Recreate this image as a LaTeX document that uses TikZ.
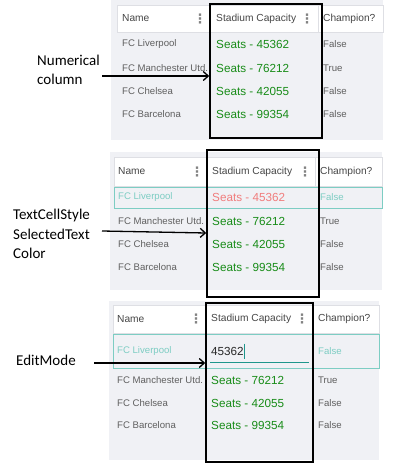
\documentclass[tikz,border=0pt]{standalone}
\usepackage{fontspec}
\setmainfont{Carlito}
\newfontfamily\tabfont{Liberation Sans}
\newfontfamily\dotfont{DejaVu Sans}
\usepackage{tikz}
\usetikzlibrary{arrows.meta}
\definecolor{gridbg}{RGB}{240,241,245}
\definecolor{gridline}{RGB}{222,223,228}
\definecolor{celltext}{RGB}{95,95,95}
\definecolor{headtext}{RGB}{70,70,70}
\definecolor{dotgrey}{RGB}{130,130,130}
\definecolor{edittext}{RGB}{40,40,40}
\definecolor{editline}{RGB}{30,150,140}
\definecolor{seatgreen}{RGB}{24,140,24}
\definecolor{seatred}{RGB}{240,125,125}
\definecolor{selteal}{RGB}{125,205,195}

\begin{document}
\begin{tikzpicture}[x=1pt,y=1pt,yscale=-1,
  cell/.style={anchor=west,inner sep=0pt,font=\tabfont\fontsize{9.6}{11}\selectfont,text=celltext},
  head/.style={cell,font=\tabfont\fontsize{10.2}{12}\selectfont,text=headtext},
  seat/.style={anchor=west,inner sep=0pt,font=\tabfont\fontsize{11.7}{13}\selectfont,text=seatgreen},
  sel/.style={cell,text=selteal},
  dots/.style={inner sep=0pt,font=\dotfont\bfseries\fontsize{13}{13}\selectfont,text=dotgrey},
  lbl/.style={anchor=west,align=left,inner sep=0pt,font=\fontsize{15}{19.5}\selectfont},
  colbox/.style={draw,line width=1.6pt,inner sep=0pt},
  pointer/.style={-{Straight Barb[length=5pt,width=9pt]},line width=1.3pt}]
\useasboundingbox (0,0) rectangle (400,463);

% first grid
\fill[gridbg] (111,0) rectangle (383,140);
\filldraw[fill=white,draw=gridline] (117,5) rectangle (383,32);
\draw[gridline,line width=1pt] (209,5) -- (209,32) (318,5) -- (318,32);
\node[head] (h1a) at (122,18.5) {Name};
\node[dots] (d1a) at (200,18.5) {⋮};
\node[head] (h1b) at (216,18.5) {Stadium Capacity};
\node[dots] (d1b) at (307,18.5) {⋮};
\node[head] (h1c) at (323,18.5) {Champion?};
\node[cell] (n1a) at (122,44) {FC Liverpool};
\node[cell] (n1b) at (122,68) {FC Manchester Utd.};
\node[cell] (n1c) at (122,91) {FC Chelsea};
\node[cell] (n1d) at (122,114) {FC Barcelona};
\node[seat] (s1a) at (216,44) {Seats - 45362};
\node[seat] (s1b) at (216,68) {Seats - 76212};
\node[seat] (s1c) at (216,91) {Seats - 42055};
\node[seat] (s1d) at (216,114) {Seats - 99354};
\node[cell] (c1a) at (323,44) {False};
\node[cell] (c1b) at (323,68) {True};
\node[cell] (c1c) at (323,91) {False};
\node[cell] (c1d) at (323,114) {False};
\node[colbox,minimum width=112pt,minimum height=134pt] (box1) at (266,71) {};
\node[lbl] (lab1) at (37,70) {Numerical\\column};
\coordinate (p1) at (102,76);
\draw[pointer] (p1) -- (p1 -| box1.west);

% second grid
\fill[gridbg] (110,152) rectangle (382,290);
\filldraw[fill=white,draw=gridline] (114,157) rectangle (382,186);
\draw[gridline,line width=1pt] (207,157) -- (207,186) (315,157) -- (315,186);
\node[head] (h2a) at (118,171.5) {Name};
\node[dots] (d2a) at (197,171.5) {⋮};
\node[head] (h2b) at (212,171.5) {Stadium Capacity};
\node[dots] (d2b) at (305,171.5) {⋮};
\node[head] (h2c) at (320,171.5) {Champion?};
\draw[selteal,line width=0.8pt] (114,187) rectangle (382,208);
\node[sel] (n2a) at (118,197) {FC Liverpool};
\node[cell] (n2b) at (118,221) {FC Manchester Utd.};
\node[cell] (n2c) at (118,244) {FC Chelsea};
\node[cell] (n2d) at (118,267) {FC Barcelona};
\node[seat,text=seatred] (s2a) at (212,197) {Seats - 45362};
\node[seat] (s2b) at (212,221) {Seats - 76212};
\node[seat] (s2c) at (212,244) {Seats - 42055};
\node[seat] (s2d) at (212,267) {Seats - 99354};
\node[sel] (c2a) at (320,197) {False};
\node[cell] (c2b) at (320,221) {True};
\node[cell] (c2c) at (320,244) {False};
\node[cell] (c2d) at (320,267) {False};
\node[colbox,minimum width=112pt,minimum height=147pt] (box2) at (263,223.5) {};
\node[lbl] (lab2) at (13,234) {TextCellStyle\\SelectedText\\Color};
\coordinate (p2) at (102,231);
\draw[pointer] (p2) -- (box2.west |- 0,233);

% third grid
\fill[gridbg] (109,301) rectangle (379,460);
\filldraw[fill=white,draw=gridline] (113,305) rectangle (379,333);
\draw[gridline,line width=1pt] (205,305) -- (205,333) (312,305) -- (312,333);
\node[head] (h3a) at (117,319) {Name};
\node[dots] (d3a) at (196,319) {⋮};
\node[head] (h3b) at (211,319) {Stadium Capacity};
\node[dots] (d3b) at (302,319) {⋮};
\node[head] (h3c) at (318,319) {Champion?};
\draw[selteal,line width=0.8pt] (113,334) rectangle (379,368);
\node[sel] (n3a) at (117,351) {FC Liverpool};
\node[cell] (n3b) at (117,380) {FC Manchester Utd.};
\node[cell] (n3c) at (117,403) {FC Chelsea};
\node[cell] (n3d) at (117,425) {FC Barcelona};
\node[seat,text=edittext] (e3a) at (211,351) {45362};
\draw[editline,line width=0.8pt] (e3a.east) ++(0.8,-7.5) -- ++(0,15);
\draw[editline,line width=1pt] (210,362) -- (309,362);
\node[seat] (s3b) at (211,380) {Seats - 76212};
\node[seat] (s3c) at (211,403) {Seats - 42055};
\node[seat] (s3d) at (211,425) {Seats - 99354};
\node[sel] (c3a) at (318,351) {False};
\node[cell] (c3b) at (318,380) {True};
\node[cell] (c3c) at (318,403) {False};
\node[cell] (c3d) at (318,425) {False};
\node[colbox,minimum width=107pt,minimum height=159pt] (box3) at (259.5,382.5) {};
\node[lbl] (lab3) at (16,360) {EditMode};
\coordinate (p3) at (94,363);
\draw[pointer] (p3) -- (p3 -| box3.west);
\end{tikzpicture}
\end{document}
